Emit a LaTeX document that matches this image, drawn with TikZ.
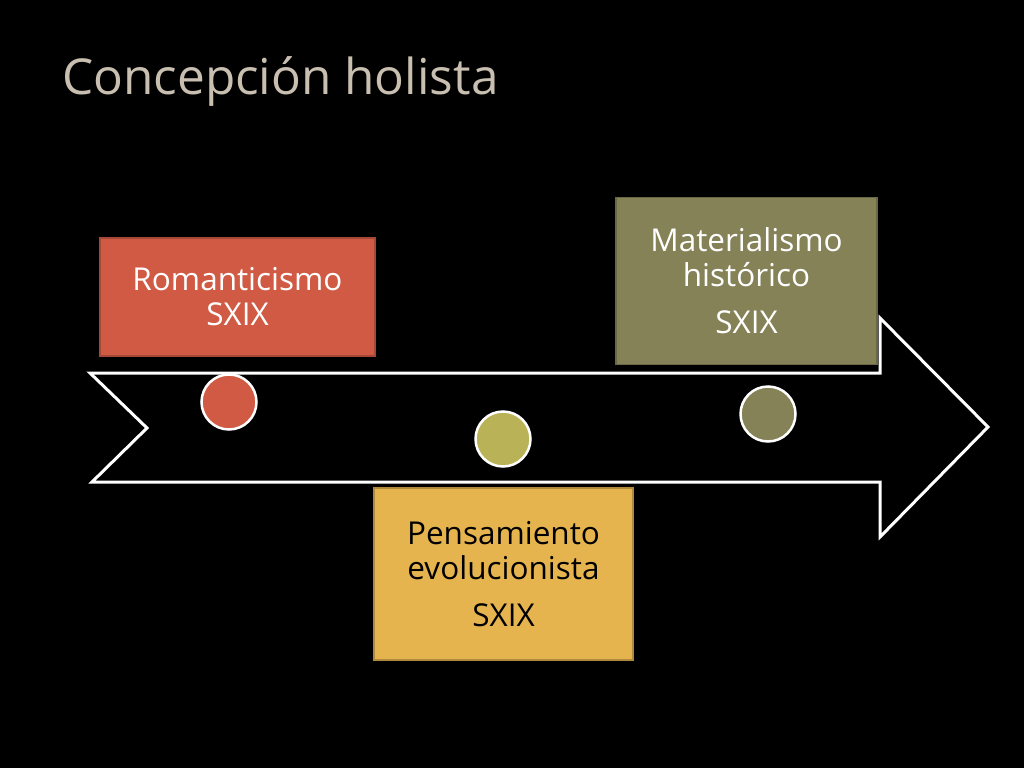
\documentclass[tikz,border=0pt]{standalone}
\usepackage{fontspec}
\setmainfont{Open Sans}
\definecolor{bg}{HTML}{000000}
\definecolor{titlec}{HTML}{C9BFB0}
\definecolor{redf}{HTML}{D05A43}
\definecolor{redd}{HTML}{A54836}
\definecolor{olivef}{HTML}{858257}
\definecolor{olived}{HTML}{6A6844}
\definecolor{yelf}{HTML}{E6B44E}
\definecolor{yeld}{HTML}{B08A3C}
\definecolor{circy}{HTML}{B9B257}
\tikzset{
  box/.style={draw, line width=1.5pt, inner sep=0pt, align=center, font=\fontsize{31.5}{35}\selectfont},
  dot/.style={circle, draw=white, line width=2.5pt, minimum size=55pt, inner sep=0pt},
  arrowshape/.style={draw=white, line width=3pt, line join=miter}
}
\begin{document}
\begin{tikzpicture}[x=1pt,y=-1pt]
\fill[bg] (0,0) rectangle (1024,768);
\useasboundingbox (0,0) rectangle (1024,768);
\node[anchor=base west, text=titlec, font=\fontsize{49.5}{56}\selectfont, inner sep=0pt] (title) at (62,94) {Concepción holista};
% arrow
\coordinate (a1) at (90,373);
\coordinate (a2) at (880,373);
\coordinate (a3) at (880,318);
\coordinate (a4) at (988,427);
\coordinate (a5) at (880,537);
\coordinate (a6) at (880,482);
\coordinate (a7) at (92,482);
\coordinate (a8) at (147,428);
\draw[arrowshape] (a1) -- (a2) -- (a3) -- (a4) -- (a5) -- (a6) -- (a7) -- (a8) -- cycle;
% boxes
\node[box, fill=redf, draw=redd, text=white, minimum width=275pt, minimum height=118pt] (rom) at (237.5,297) {Romanticismo\\SXIX};
\node[box, fill=olivef, draw=olived, text=white, minimum width=261pt, minimum height=167pt] (mat) at (746.5,281) {Materialismo\\histórico\\[12pt]SXIX};
\node[box, fill=yelf, draw=yeld, text=black, minimum width=259pt, minimum height=172pt] (pen) at (503.5,574) {Pensamiento\\evolucionista\\[12pt]SXIX};
% dots
\node[dot, fill=redf] (d1) at (229,402) {};
\node[dot, fill=circy] (d2) at (503,439) {};
\node[dot, fill=olivef] (d3) at (768,414) {};
\end{tikzpicture}
\end{document}
